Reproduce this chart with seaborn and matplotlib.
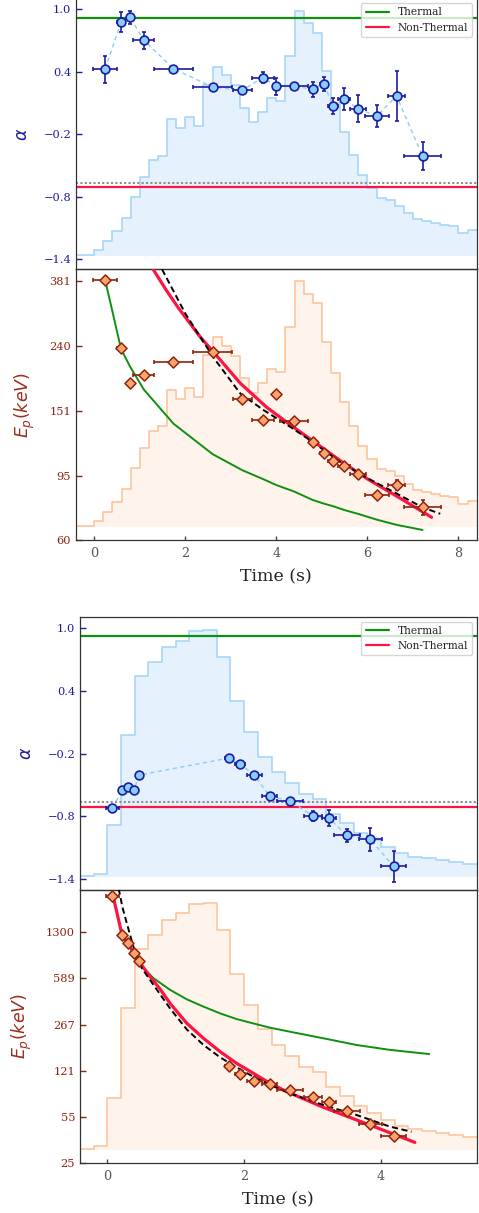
import matplotlib
matplotlib.use("Agg")
import numpy as np
import pandas as pd
import matplotlib.pyplot as plt
import seaborn as sns
from matplotlib.ticker import NullLocator
from matplotlib.lines import Line2D

# ---------------------------------------------------------------- burst 1
lc1_edges = np.round(np.arange(-0.4, 8.41, 0.2), 2)
lc1_counts = [0.002, 0.003, 0.022, 0.061, 0.100, 0.153, 0.238, 0.322, 0.390, 0.409,
              0.558, 0.520, 0.567, 0.529, 0.698, 0.773, 0.737, 0.697, 0.605, 0.546,
              0.587, 0.643, 0.631, 0.816, 1.000, 0.949, 0.911, 0.754, 0.625, 0.507,
              0.410, 0.330, 0.277, 0.236, 0.228, 0.205, 0.173, 0.150, 0.140, 0.134,
              0.126, 0.122, 0.091, 0.105]

t1 = [0.24, 0.59, 0.79, 1.09, 1.74, 2.60, 3.25, 3.70, 4.00, 4.39, 4.80, 5.04,
      5.25, 5.49, 5.79, 6.21, 6.64, 7.21]
dt1 = [0.26, 0.08, 0.06, 0.23, 0.43, 0.43, 0.21, 0.24, 0.07, 0.31, 0.09, 0.09,
       0.11, 0.13, 0.18, 0.26, 0.18, 0.40]
alpha1 = [0.426, 0.878, 0.923, 0.702, 0.430, 0.253, 0.221, 0.343, 0.260, 0.263,
          0.231, 0.282, 0.071, 0.135, 0.045, -0.025, 0.167, -0.410]
dalpha1 = [0.13, 0.096, 0.064, 0.082, 0.02, 0.02, 0.03, 0.05, 0.08, 0.02, 0.07,
           0.07, 0.08, 0.107, 0.127, 0.11, 0.24, 0.13]
ep1 = [385, 236, 185, 195, 214, 230, 164, 142, 170, 141, 121, 112, 106, 102, 96,
       83, 89, 76]
dep1 = [3, 2, 2, 2, 2, 3, 2, 2, 2, 2, 2, 2, 2, 2, 2, 2, 3, 4]

thermal1_t = [0.24, 0.59, 0.79, 1.09, 1.74, 2.60, 3.25, 3.70, 4.00, 4.39, 4.80,
              5.04, 5.25, 5.49, 5.79, 6.21, 6.64, 7.21]
thermal1_ep = [385, 235, 207, 176, 138, 111, 99, 93, 89, 85, 80, 78, 76.5, 74.5,
               72.5, 69.5, 67, 64.6]
synchro1_t = [1.30, 1.57, 1.85, 2.33, 2.62, 3.21, 3.79, 4.30, 4.80, 5.40, 6.00,
              6.72, 7.41]
synchro1_ep = [414, 360, 315, 256, 230, 184, 155, 137, 122, 106, 93, 81, 70.7]
fit1_t = [1.49, 2.00, 2.62, 3.21, 3.72, 4.30, 4.80, 5.40, 6.00, 6.60, 7.20, 7.60]
fit1_ep = [415, 303, 221, 171, 152, 135, 121, 105, 93.5, 84.4, 76, 72.5]

ep1_ticks = [60, 95, 151, 240, 381]

# ---------------------------------------------------------------- burst 2
lc2_edges = np.round(np.arange(-0.4, 5.41, 0.2), 2)
lc2_counts = [0.003, 0.013, 0.208, 0.574, 0.813, 0.869, 0.931, 0.957, 0.996, 1.000,
              0.891, 0.712, 0.587, 0.487, 0.423, 0.380, 0.336, 0.315, 0.255, 0.218,
              0.178, 0.147, 0.121, 0.096, 0.082, 0.077, 0.069, 0.058, 0.053]

t2 = [0.073, 0.219, 0.307, 0.389, 0.467, 1.776, 1.94, 2.146, 2.375, 2.676, 3.003,
      3.236, 3.504, 3.845, 4.185]
dt2 = [0.10, 0.04, 0.04, 0.04, 0.04, 0.05, 0.07, 0.11, 0.11, 0.19, 0.13, 0.10,
       0.19, 0.17, 0.18]
alpha2 = [-0.723, -0.545, -0.516, -0.545, -0.405, -0.243, -0.300, -0.405, -0.608,
          -0.653, -0.796, -0.815, -0.980, -1.018, -1.276]
dalpha2 = [0.02, 0.02, 0.02, 0.02, 0.02, 0.02, 0.03, 0.03, 0.03, 0.03, 0.045,
           0.075, 0.06, 0.11, 0.15]
ep2 = [2418, 1240, 1074, 910, 794, 131, 114, 102, 96.9, 86.9, 76.7, 70.3, 60.6,
       48.3, 39.7]
dep2 = [20, 10, 10, 8, 6, 1, 1, 1, 1, 1, 1, 1, 1, 1, 1]

thermal2_t = [0.214, 0.302, 0.39, 0.467, 0.555, 0.676, 0.92, 1.163, 1.406, 1.65,
              1.893, 2.136, 2.38, 2.672, 3.158, 3.645, 4.131, 4.706]
thermal2_ep = [1240, 1070, 905, 790, 680, 590, 483, 411, 363, 323, 293, 272, 253,
               236, 211, 188, 173, 161]
synchro2_t = [0.09, 0.214, 0.302, 0.384, 0.482, 0.628, 0.774, 0.92, 1.163, 1.406,
              1.65, 1.893, 2.136, 2.38, 2.623, 3.158, 3.645, 4.131, 4.496]
synchro2_ep = [2340, 1246, 1070, 910, 762, 605, 488, 382, 272.5, 210.8, 167.6, 137,
               115.7, 97.4, 84.5, 64.6, 52.0, 41.8, 35.4]
fit2_t = [0.165, 0.22, 0.263, 0.33, 0.42, 0.506, 0.676, 0.92, 1.163, 1.406, 1.65,
          1.893, 2.136, 2.38, 2.672, 3.158, 3.645, 4.131, 4.448]
fit2_ep = [2750, 2000, 1660, 1250, 870, 700, 525, 350, 245, 188, 152, 128, 109,
           94.7, 82, 67.2, 56.6, 46.4, 42.5]

ep2_ticks = [25, 55, 121, 267, 589, 1300]

# reference spectral slopes
ALPHA_THERMAL = 0.92
ALPHA_NONTHERMAL = -0.71
ALPHA_DEATH = -2.0 / 3.0

# ---------------------------------------------------------------- style
sns.set_theme(style="ticks")
plt.rcParams["font.family"] = ["DejaVu Serif"]
plt.rcParams["mathtext.fontset"] = "dejavusans"
plt.rcParams["axes.edgecolor"] = "#333333"
plt.rcParams["axes.linewidth"] = 0.9

NAVY = "#1c1ca0"
BROWN = "#8e2410"
GREEN = "#0f900f"
RED = "#fa1543"
SKY = "lightskyblue"
PEACH = "#fca46c"

W, H = 479, 1213
fig = plt.figure(figsize=(W / 100, H / 100), dpi=100)


def box(left, top, right, bottom):
    return [left / W, 1 - bottom / H, (right - left) / W, (bottom - top) / H]


def light_curve(ax, edges, counts, line, face, lo):
    axh = ax.twinx()
    lc = pd.DataFrame({"t": (edges[:-1] + edges[1:]) / 2, "rate": counts})
    bin_list = [float(b) for b in edges]
    sns.histplot(data=lc, x="t", weights="rate", bins=bin_list, element="step",
                 fill=True, facecolor=face, edgecolor="none", linewidth=0, ax=axh)
    sns.histplot(data=lc, x="t", weights="rate", bins=bin_list, element="step",
                 fill=False, color=line, linewidth=1.2, ax=axh)
    axh.set_ylim(lo, lo + 1.105)
    axh.set_axis_off()
    ax.set_zorder(axh.get_zorder() + 1)
    ax.patch.set_visible(False)


def alpha_panel(ax, edges, counts, lo, t, dt, a, da, xlim):
    light_curve(ax, edges, counts, "#a8d5f8", "#e5f2fd", lo)
    ax.axhline(ALPHA_THERMAL, color=GREEN, lw=1.6, zorder=2)
    ax.axhline(ALPHA_NONTHERMAL, color=RED, lw=1.6, zorder=2)
    ax.axhline(ALPHA_DEATH, color="#8c8c8c", ls=(0, (1, 1.1)), lw=1.5, zorder=2)
    sns.lineplot(x=t, y=a, ax=ax, color=SKY, lw=1.0, linestyle=(0, (3, 2.5)),
                 sort=False, estimator=None, zorder=3)
    ax.errorbar(t, a, xerr=dt, yerr=da, fmt="none", ecolor=NAVY, elinewidth=1.2,
                capsize=1.7, capthick=1.2, zorder=4)
    sns.scatterplot(x=t, y=a, ax=ax, marker="o", s=40, color=SKY, edgecolor=NAVY,
                    linewidth=1.2, zorder=5)
    ax.set_xlim(*xlim)
    ax.set_ylim(-1.5, 1.1)
    ax.set_yticks([-1.4, -0.8, -0.2, 0.4, 1.0])
    ax.tick_params(axis="y", direction="in", length=4.3, width=1.0, colors=NAVY,
                   labelsize=8.2, left=True, right=False)
    ax.tick_params(axis="x", bottom=False, labelbottom=False)
    ax.set_ylabel(r"$\alpha$", color=NAVY, fontsize=12.5, labelpad=9)
    handles = [Line2D([], [], color=GREEN, lw=1.6), Line2D([], [], color=RED, lw=1.6)]
    ax.legend(handles, ["Thermal", "Non-Thermal"], loc="upper right", fontsize=7.7,
              framealpha=0.8, edgecolor="#cccccc", fancybox=True,
              borderaxespad=0.4, handlelength=2.2)


def ep_panel(ax, edges, counts, lo, t, dt, e, de, th_t, th_e, sy_t, sy_e, ft_t, ft_e,
             ylim, yticks, xlim, xticks):
    light_curve(ax, edges, counts, "#fdc49c", "#fef4ec", lo)
    ax.set_yscale("log")
    sns.lineplot(x=th_t, y=th_e, ax=ax, color=GREEN, lw=1.4, sort=False,
                 estimator=None, zorder=2)
    sns.lineplot(x=sy_t, y=sy_e, ax=ax, color=RED, lw=2.3, sort=False,
                 estimator=None, zorder=3)
    sns.lineplot(x=ft_t, y=ft_e, ax=ax, color="black", lw=1.4,
                 linestyle=(0, (3.2, 1.8)), sort=False, estimator=None, zorder=3)
    ax.errorbar(t, e, xerr=dt, yerr=de, fmt="none", ecolor=BROWN, elinewidth=1.2,
                capsize=1.7, capthick=1.2, zorder=4)
    sns.scatterplot(x=t, y=e, ax=ax, marker="D", s=32, color=PEACH, edgecolor=BROWN,
                    linewidth=1.1, zorder=5)
    ax.set_xlim(*xlim)
    ax.set_ylim(*ylim)
    ax.set_yticks(yticks, [str(v) for v in yticks])
    ax.yaxis.set_minor_locator(NullLocator())
    ax.set_xticks(xticks)
    ax.tick_params(axis="y", direction="in", length=4.3, width=1.0, colors=BROWN,
                   labelsize=8.2, left=True, right=False)
    ax.tick_params(axis="x", direction="in", length=2.8, width=1.0, color="#444444",
                   labelcolor="#555555", labelsize=9.2, top=False, pad=5)
    ax.set_ylabel(r"$E_p(keV)$", color="#9c2c1a", fontsize=12.5, labelpad=9)
    ax.set_xlabel("Time (s)", fontsize=12.5, color="#222222", labelpad=6)


# ---------------------------------------------------------------- burst 1
ax_a1 = fig.add_axes(box(76, -1.07, 476.7, 269.4))
ax_e1 = fig.add_axes(box(76, 269.4, 476.7, 540.3), sharex=ax_a1)
alpha_panel(ax_a1, lc1_edges, lc1_counts, -0.0558, t1, dt1, alpha1, dalpha1, (-0.4, 8.4))
ep_panel(ax_e1, lc1_edges, lc1_counts, -0.0558, t1, dt1, ep1, dep1,
         thermal1_t, thermal1_ep, synchro1_t, synchro1_ep, fit1_t, fit1_ep,
         (60, 415), ep1_ticks, (-0.4, 8.4), [0, 2, 4, 6, 8])

# ---------------------------------------------------------------- burst 2
ax_a2 = fig.add_axes(box(80, 617.3, 476.7, 889.8))
ax_e2 = fig.add_axes(box(80, 889.8, 476.7, 1162.7), sharex=ax_a2)
alpha_panel(ax_a2, lc2_edges, lc2_counts, -0.053, t2, dt2, alpha2, dalpha2, (-0.4, 5.4))
ep_panel(ax_e2, lc2_edges, lc2_counts, -0.053, t2, dt2, ep2, dep2,
         thermal2_t, thermal2_ep, synchro2_t, synchro2_ep, fit2_t, fit2_ep,
         (25, 2690), ep2_ticks, (-0.4, 5.4), [0, 2, 4])

fig.savefig("out.png", dpi=100)
